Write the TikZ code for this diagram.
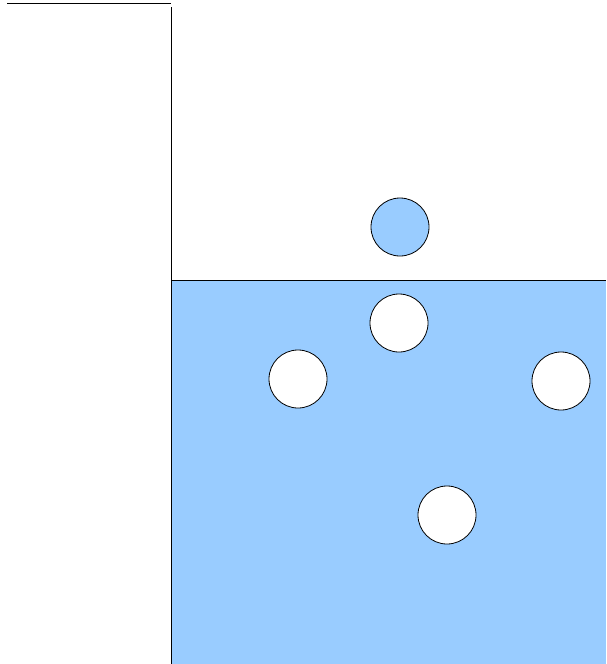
\documentclass[tikz,border=0pt]{standalone}
\definecolor{water}{HTML}{99CCFF}
\tikzset{
  ball/.style={circle, draw=black, line width=0.8pt, minimum size=58pt, inner sep=0pt},
  wall/.style={draw=black, line width=0.9pt}
}
\begin{document}
\begin{tikzpicture}[x=1pt,y=-1pt]
\useasboundingbox (0,0) rectangle (606,664);
\fill[white] (0,0) rectangle (606,664);
\coordinate (tl) at (7,3.5);
\coordinate (tr) at (171,3.5);
\coordinate (vt) at (171,7);
\coordinate (vb) at (171,664);
\draw[wall] (tl) -- (tr);
\fill[water] (171,280) rectangle (606,664);
\draw[wall] (vt) -- (vb);
\draw[wall] (171,280) -- (606,280);
\node[ball, fill=water] (b0) at (400,227) {};
\node[ball, fill=white] (b1) at (399,323) {};
\node[ball, fill=white] (b2) at (298,379) {};
\node[ball, fill=white] (b3) at (561,381) {};
\node[ball, fill=white] (b4) at (447,515) {};
\end{tikzpicture}
\end{document}
